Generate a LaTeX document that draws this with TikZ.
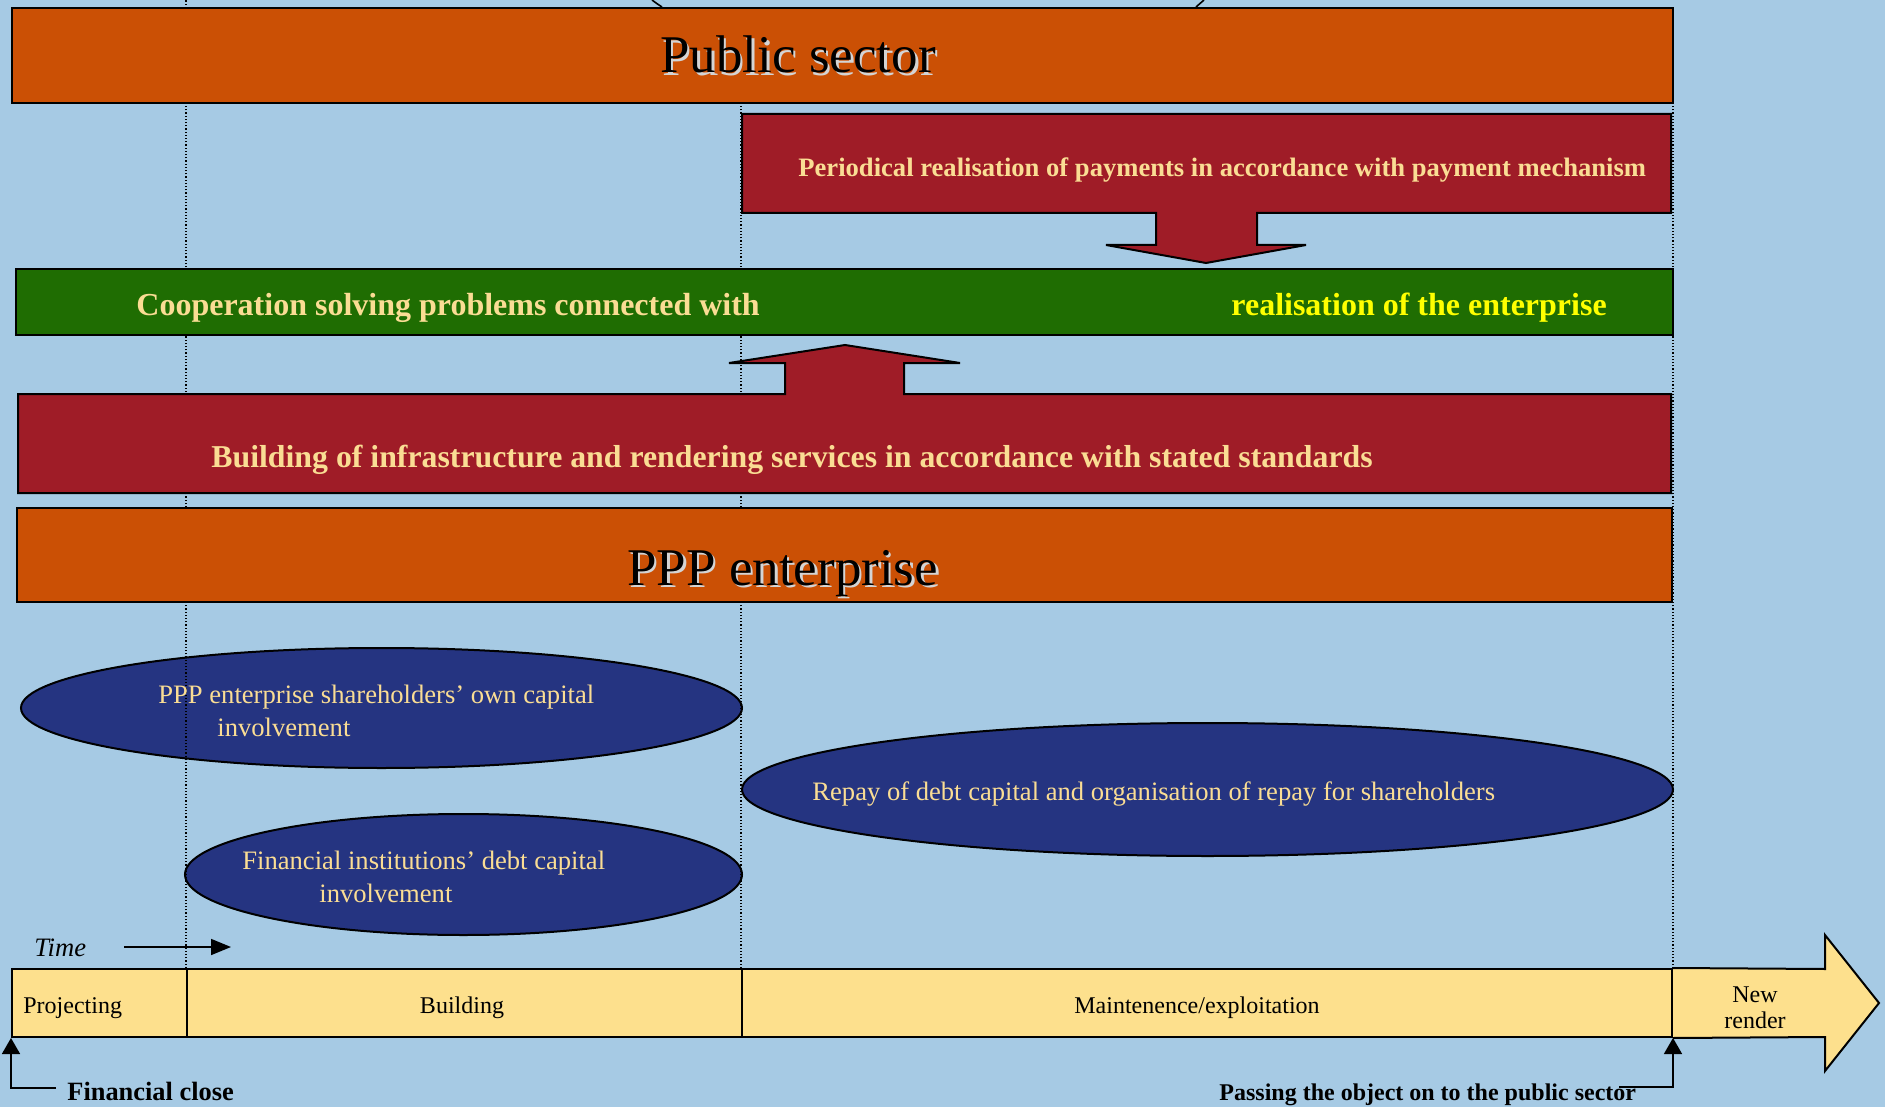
\documentclass[tikz,border=0pt]{standalone}
\usepackage{fontspec}
\setmainfont{Liberation Serif}
\usetikzlibrary{arrows.meta,shapes.geometric}
\definecolor{bg}{HTML}{A6CAE4}
\definecolor{orng}{HTML}{CB5005}
\definecolor{dred}{HTML}{9F1C27}
\definecolor{dgreen}{HTML}{1F6D02}
\definecolor{navy}{HTML}{253481}
\definecolor{pale}{HTML}{FDE08D}
\definecolor{cream}{HTML}{FADD94}
\definecolor{yel}{HTML}{FFFF00}
\definecolor{shadowc}{HTML}{D4D4D4}
\begin{document}
\begin{tikzpicture}[x=0.5pt,y=-0.5pt,
  bar/.style={draw=black,line width=1pt,inner sep=0pt,rectangle},
  cell/.style={draw=black,line width=1pt,fill=pale,inner sep=0pt,rectangle},
  oval/.style={draw=black,line width=1pt,fill=navy,ellipse,inner sep=0pt},
  guide/.style={densely dotted,line width=0.6pt},
  bigt/.style={anchor=base west,inner sep=0pt,font=\fontsize{26.5}{32}\selectfont},
  boldt/.style={anchor=base west,inner sep=0pt,font=\bfseries},
  ovt/.style={anchor=base west,inner sep=0pt,text=cream,font=\fontsize{13.3}{16}\selectfont},
  lbl/.style={anchor=base west,inner sep=0pt},
  cellt/.style={anchor=base,inner sep=0pt,font=\fontsize{12}{14}\selectfont},
  tip/.style={-{Triangle[length=8pt,width=9pt]},line width=0.8pt}
]
\fill[bg] (0,0) rectangle (1885,1107);
\useasboundingbox (0,0) rectangle (1885,1107);

% parenthesis ends at top
\draw[line width=0.8pt] (652,0) .. controls (656,3) .. (662,7);
\draw[line width=0.8pt] (1204,0) .. controls (1200,3) .. (1196,7);

% ellipses
\node[oval,minimum width=360.5pt,minimum height=60pt] (own) at (381.5,708) {};
\node[oval,minimum width=278.5pt,minimum height=60.5pt] (debt) at (463.5,874.5) {};
\node[oval,minimum width=465.5pt,minimum height=66.5pt] (repay) at (1207.5,789.5) {};

% timeline cells
\node[cell,minimum width=87.5pt,minimum height=34pt] (proj) at (99.5,1003) {};
\node[cell,minimum width=277.5pt,minimum height=34pt] (bld) at (464.5,1003) {};
\node[cell,minimum width=465pt,minimum height=34pt] (maint) at (1207,1003) {};

% dotted guides
\draw[guide] (bld.north west) -- ++(0,-969);
\draw[guide] (maint.north west) -- ++(0,-866);
\draw[guide] (maint.north east) -- ++(0,-866);

% top boxes
\node[bar,fill=orng,minimum width=830.5pt,minimum height=47.5pt] (pub) at (842.5,55.5) {};
\draw[line width=1pt,fill=dred] (742,114) -- (1671,114) -- (1671,213) -- (1257,213) -- (1257,245)
  -- (1306,245) -- (1206,263) -- (1106,245) -- (1156,245) -- (1156,213) -- (742,213) -- cycle;
\node[bar,fill=dgreen,minimum width=828.5pt,minimum height=33pt] (coop) at (844.5,302) {};
\draw[line width=1pt,fill=dred] (18,394) -- (785,394) -- (785,363) -- (729,363) -- (845,345)
  -- (960,363) -- (904,363) -- (904,394) -- (1671,394) -- (1671,493) -- (18,493) -- cycle;
\node[bar,fill=orng,minimum width=827.5pt,minimum height=47pt] (ppp) at (844.5,555) {};

% texts
\node[bigt,text=shadowc] (pubs) at (662.5,75.5) {Public sector};
\node[bigt] (pubt) at (660,73) {Public sector};
\node[bigt,text=shadowc] (ppps) at (629.5,587.5) {PPP enterprise};
\node[bigt] (pppt) at (627,585) {PPP enterprise};
\node[boldt,text=cream,font=\bfseries\fontsize{13.3}{16}\selectfont] (payt) at (798,177)
  {Periodical realisation of payments in accordance with payment mechanism};
\node[boldt,text=cream,font=\bfseries\fontsize{16}{19}\selectfont] (coopa) at (136,315)
  {Cooperation solving problems connected with};
\node[boldt,text=yel,font=\bfseries\fontsize{16}{19}\selectfont] (coopb) at (1231,315)
  {realisation of the enterprise};
\node[boldt,text=cream,font=\bfseries\fontsize{15.9}{19}\selectfont] (bldt) at (211,467)
  {Building of infrastructure and rendering services in accordance with stated standards};

\node[ovt] (own1) at (158,703) {PPP enterprise shareholders’ own capital};
\node[ovt] (own2) at (217,736) {involvement};
\node[ovt] (debt1) at (242,869) {Financial institutions’ debt capital};
\node[ovt] (debt2) at (319,902) {involvement};
\node[ovt] (repayt) at (812,800) {Repay of debt capital and organisation of repay for shareholders};

% New render arrow
\draw[line width=1pt,fill=pale] (maint.north east) -- (1825,969) -- (1825,935) -- (1879,1003)
  -- (1825,1071) -- (1825,1037) -- (maint.south east);
\node[align=center,inner sep=0pt,font=\fontsize{12}{13}\selectfont] (newr) at (1755,1008) {New\\render};

% cell labels
\node[lbl,font=\fontsize{12}{14}\selectfont] (projt) at (23,1013) {Projecting};
\node[cellt] (bldl) at (462,1013) {Building};
\node[cellt] (maintl) at (1197,1013) {Maintenence/exploitation};

% time
\node[lbl,font=\itshape\fontsize{13.3}{15}\selectfont] (time) at (34,956) {Time};
\coordinate (ta) at (124,947);
\coordinate (tb) at (231,947);
\draw[-{Triangle[length=10pt,width=8pt]},line width=0.8pt] (ta) -- (tb);

% milestones
\node[lbl,font=\bfseries\fontsize{13.2}{15}\selectfont] (fc) at (67,1100) {Financial close};
\node[lbl,font=\bfseries\fontsize{12}{15}\selectfont] (ps) at (1219,1100) {Passing the object on to the public sector};
\coordinate (fcl) at (56,1088);
\coordinate (psr) at (1619,1087);
\draw[tip] (fcl) -| (proj.south west);
\draw[tip] (psr) -| (maint.south east);
\end{tikzpicture}
\end{document}
